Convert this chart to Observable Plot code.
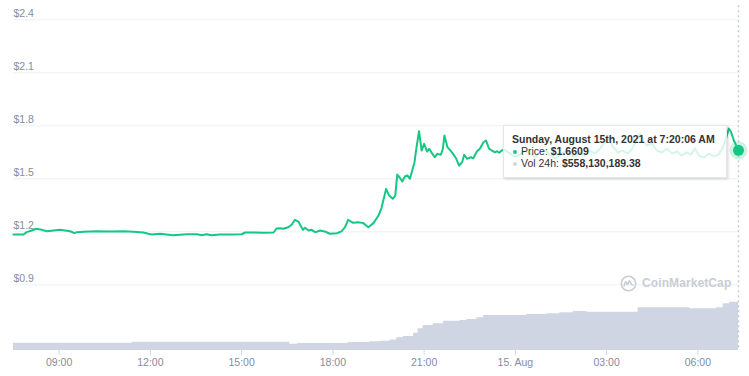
<!DOCTYPE html>
<html>
<head>
<meta charset="utf-8">
<script src="https://cdn.jsdelivr.net/npm/d3@7"></script>
<script src="https://cdn.jsdelivr.net/npm/@observablehq/plot@0.6"></script>
<style>
  html, body { margin: 0; padding: 0; background: #fff; }
  #wrap { position: relative; width: 749px; height: 376px; overflow: hidden; font-family: "Liberation Sans", Arial, sans-serif; }
  .layer { position: absolute; left: 0; top: 0; }
  #tip {
    position: absolute; left: 503px; top: 125px; width: 206px; height: 37px;
    padding: 7px 8px 7px 8px; background: rgba(255,255,255,0.82);
    border: 1px solid #e4e7ec; box-shadow: 1px 1px 3px rgba(0,0,0,0.18);
    font-size: 10.5px; line-height: 12px; color: #333; white-space: nowrap;
  }
  #tip .b { font-weight: bold; }
  #tip .dot { display: inline-block; width: 4px; height: 4px; border-radius: 50%; margin: 0 4px 1px 1px; vertical-align: middle; }
  #wm { position: absolute; left: 620px; top: 275px; height: 16px; display: flex; align-items: center; gap: 5px;
        color: #c8cdd6; font-size: 12px; font-weight: bold; letter-spacing: 0.1px; }
</style>
</head>
<body>
<div id="wrap">
  <div id="vol" class="layer"></div>
  <div id="price" class="layer"></div>
  <div id="wm">
    <svg width="17" height="17" viewBox="0 0 17 17"><circle cx="8.5" cy="8.5" r="7.2" fill="none" stroke="#c8cdd6" stroke-width="1.6"/><path d="M4.2 11 C5 6 6.2 5.5 7 9 C7.8 12 8.8 5 9.8 6 C10.8 7 11 10.5 12.8 10" fill="none" stroke="#c8cdd6" stroke-width="1.6" stroke-linecap="round"/></svg>
    <span>CoinMarketCap</span>
  </div>
  <div id="tip">
    <div class="b">Sunday, August 15th, 2021 at 7:20:06 AM</div>
    <div><span class="dot" style="background:#16c784"></span>Price: <span class="b">$1.6609</span></div>
    <div><span class="dot" style="background:#cfd5e3"></span>Vol 24h: <span class="b">$558,130,189.38</span></div>
  </div>
</div>
<script>
// ---- data (Aug 2021, UTC) ----
const priceTimes = [
"14T07:30","14T07:50","14T07:56","14T08:06","14T08:15","14T08:26","14T08:36","14T08:49","14T09:02","14T09:12",
"14T09:22","14T09:30","14T09:35","14T09:48","14T10:14","14T10:41","14T11:07","14T11:27","14T11:46","14T11:56",
"14T12:03","14T12:19","14T12:45","14T13:12","14T13:32","14T13:41","14T13:51","14T14:01","14T14:17","14T14:37",
"14T15:00","14T15:07","14T15:23","14T15:43","14T16:03","14T16:09","14T16:16","14T16:22","14T16:32","14T16:39",
"14T16:45","14T16:52","14T16:55","14T17:01","14T17:05","14T17:12","14T17:18","14T17:25","14T17:31","14T17:35",
"14T17:44","14T17:54","14T18:08","14T18:17","14T18:24","14T18:30","14T18:40","14T18:50","14T19:00","14T19:10",
"14T19:20","14T19:30","14T19:36","14T19:45","14T19:51","14T19:58","14T20:03","14T20:07","14T20:12","14T20:17",
"14T20:22","14T20:27","14T20:32","14T20:41","14T20:45","14T20:50","14T20:55","14T21:00","14T21:06","14T21:10",
"14T21:15","14T21:21","14T21:26","14T21:33","14T21:37","14T21:40","14T21:46","14T21:52","14T21:57","14T22:03",
"14T22:09","14T22:15","14T22:19","14T22:25","14T22:32","14T22:37","14T22:44","14T22:50","14T22:57","14T23:02",
"14T23:08","14T23:14","14T23:20","14T23:24","14T23:28","14T23:33","14T23:39","14T23:49","14T23:59","15T00:09",
"15T00:19","15T00:29","15T00:39","15T00:48","15T00:58","15T01:08","15T01:18","15T01:28","15T01:38","15T01:48",
"15T01:57","15T02:07","15T02:17","15T02:27","15T02:37","15T02:47","15T02:57","15T03:04","15T03:12","15T03:22",
"15T03:32","15T03:42","15T03:52","15T04:00","15T04:06","15T04:12","15T04:19","15T04:29","15T04:39","15T04:49",
"15T04:59","15T05:09","15T05:19","15T05:28","15T05:38","15T05:46","15T05:54","15T06:02","15T06:12","15T06:22",
"15T06:31","15T06:41","15T06:49","15T06:55","15T07:01","15T07:05","15T07:11","15T07:20:06"
];
const prices = [
1.185,1.185,1.198,1.207,1.217,1.211,1.203,1.207,1.211,1.207,
1.203,1.192,1.198,1.200,1.203,1.202,1.203,1.200,1.196,1.189,
1.185,1.189,1.181,1.186,1.186,1.181,1.186,1.181,1.185,1.185,
1.186,1.196,1.196,1.194,1.196,1.219,1.220,1.217,1.226,1.241,
1.268,1.258,1.241,1.211,1.223,1.207,1.211,1.198,1.203,1.207,
1.202,1.189,1.192,1.202,1.226,1.268,1.251,1.254,1.249,1.226,
1.249,1.292,1.336,1.443,1.405,1.387,1.405,1.524,1.506,1.485,
1.513,1.519,1.500,1.594,1.679,1.769,1.660,1.698,1.654,1.670,
1.647,1.622,1.641,1.636,1.670,1.745,1.679,1.660,1.641,1.616,
1.575,1.594,1.636,1.613,1.622,1.616,1.654,1.670,1.707,1.717,
1.670,1.660,1.650,1.656,1.647,1.660,1.666,1.643,1.626,1.637,
1.660,1.643,1.620,1.649,1.660,1.637,1.615,1.632,1.654,1.637,
1.626,1.649,1.632,1.660,1.643,1.671,1.711,1.728,1.683,1.649,
1.660,1.643,1.677,1.728,1.756,1.717,1.688,1.700,1.660,1.649,
1.671,1.643,1.654,1.632,1.649,1.637,1.671,1.632,1.620,1.643,
1.626,1.637,1.677,1.722,1.785,1.768,1.717,1.6609
];
const volTimes = [
"14T07:30","14T11:24","14T16:35","14T16:51","14T18:30","14T19:13","14T19:33","14T19:53","14T20:06","14T20:19",
"14T20:39","14T20:48","14T20:58","14T21:18","14T21:38","14T22:11","14T22:24","14T22:44","14T22:57","15T00:22",
"15T01:02","15T01:28","15T01:54","15T02:21","15T04:02","15T05:44","15T06:37","15T06:50","15T07:03","15T07:20:06"
];
const volumes = [
85e6,98e6,75e6,83e6,95e6,105e6,110e6,125e6,152e6,168e6,
206e6,258e6,297e6,317e6,349e6,357e6,369e6,389e6,416e6,428e6,
436e6,449e6,464e6,456e6,508e6,496e6,508e6,555e6,575e6,558130189.38
];
const yTicks = [0.9, 1.2, 1.5, 1.8, 2.1, 2.4];
const yTickLabels = ["$0.9", "$1.2", "$1.5", "$1.8", "$2.1", "$2.4"];
const xTickTimes = ["14T09:00","14T12:00","14T15:00","14T18:00","14T21:00","15T00:00","15T03:00","15T06:00"];
const xTickLabels = ["09:00","12:00","15:00","18:00","21:00","15. Aug","03:00","06:00"];

// ---- build ----
const toDate = s => new Date("2021-08-" + s + "Z");
const priceData = priceTimes.map((t, i) => ({date: toDate(t), price: prices[i]}));
const volData = volTimes.map((t, i) => ({date: toDate(t), vol: volumes[i]}));
const last = priceData[priceData.length - 1];
const xTicks = xTickTimes.map(toDate);
const xLabelMap = new Map(xTicks.map((d, i) => [+d, xTickLabels[i]]));
const yLabelMap = new Map(yTicks.map((d, i) => [d, yTickLabels[i]]));

const W = 749, H = 376;
const margins = {marginLeft: 13, marginRight: 11, marginTop: 19.3, marginBottom: 26};
const xDomain = [priceData[0].date, last.date];
const green = "#16c784", gray = "#858ca2";
const font = {fontFamily: "'Liberation Sans', Arial, sans-serif", fontSize: "10.5px", background: "transparent"};

const volPlot = Plot.plot({
  width: W, height: H, ...margins, style: font,
  x: {type: "utc", domain: xDomain, axis: null},
  y: {domain: [0, 3935e6], axis: null},
  marks: [
    Plot.areaY(volData, {x: "date", y: "vol", curve: "step-after", fill: "#cfd5e3"})
  ]
});
document.getElementById("vol").appendChild(volPlot);

const pricePlot = Plot.plot({
  width: W, height: H, ...margins, style: font,
  x: {type: "utc", domain: xDomain},
  y: {domain: [0.528, 2.4]},
  marks: [
    Plot.gridY(yTicks, {stroke: "#eef0f3", strokeOpacity: 1}),
    Plot.axisY({ticks: yTicks, tickFormat: d => yLabelMap.get(d), anchor: "left", tickSize: 0, tickPadding: 0,
      textAnchor: "start", dy: -6, fill: gray, label: null}),
    Plot.axisX({ticks: xTicks, tickFormat: d => xLabelMap.get(+d), tickSize: 5, tickPadding: 3,
      stroke: "#ccd6eb", fill: gray, label: null}),
    Plot.ruleX([last], {x: "date", stroke: "#c3c9d3", strokeWidth: 1.5, strokeDasharray: "2,3", insetTop: -14}),
    Plot.lineY(priceData, {x: "date", y: "price", stroke: green, strokeWidth: 2}),
    Plot.dot([last], {x: "date", y: "price", r: 9, fill: green, fillOpacity: 0.22}),
    Plot.dot([last], {x: "date", y: "price", r: 5.5, fill: green})
  ]
});
document.getElementById("price").appendChild(pricePlot);
</script>
</body>
</html>
